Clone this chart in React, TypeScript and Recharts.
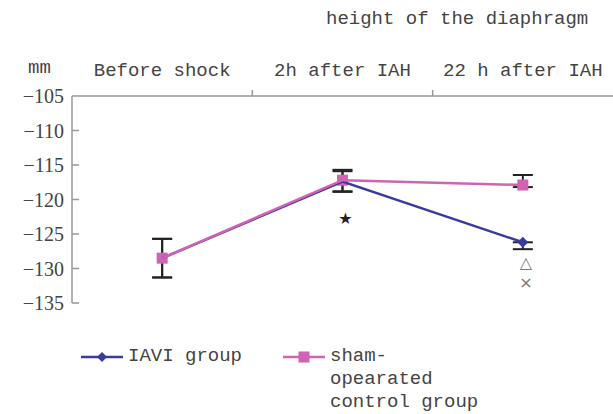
import React from 'react'
import {
  LineChart,
  Line,
  XAxis,
  YAxis,
  ErrorBar,
  ReferenceDot,
  Legend,
} from 'recharts'

const categories = ['Before shock', '2h after IAH', '22 h after IAH']
const iaviValues = [-128.5, -117.4, -126.2]
const shamValues = [-128.5, -117.2, -117.9]
// [down, up]
const iaviErrors = [[2.8, 2.8], [1.5, 1.5], [1.0, 0]]
const shamErrors = [[2.8, 2.8], [1.6, 1.5], [0.3, 1.45]]
const yTicks = [-105, -110, -115, -120, -125, -130, -135]
const marks = [
  { cat: '2h after IAH', value: -122.7, sym: '★', color: '#222' },
  { cat: '22 h after IAH', value: -129.1, sym: '△', color: '#777' },
  { cat: '22 h after IAH', value: -131.9, sym: '×', color: '#777' },
]

const BLUE = '#3b3b9e'
const PINK = '#d063b3'
const MONO = '"Liberation Mono", monospace'
const SERIF = '"Liberation Serif", serif'
const TEXT = '#444'

const data = categories.map((name, i) => ({
  name,
  iavi: iaviValues[i],
  sham: shamValues[i],
  iaviErr: iaviErrors[i],
  shamErr: shamErrors[i],
}))

const AXIS_X = 72
const HALF_BAND = (613 - AXIS_X) / 6

const Diamond = (props: any) => {
  const { cx, cy, fill } = props
  if (cx == null || cy == null) return null
  const r = 5.5
  return (
    <polygon
      points={`${cx},${cy - r} ${cx + r},${cy} ${cx},${cy + r} ${cx - r},${cy}`}
      fill={fill}
    />
  )
}

const Square = (props: any) => {
  const { cx, cy, fill } = props
  if (cx == null || cy == null) return null
  return <rect x={cx - 5.5} y={cy - 5.5} width={11} height={11} fill={fill} />
}

const XTick = (props: any) => {
  const { x, payload, index } = props
  return (
    <g>
      <text x={x} y={76} textAnchor="middle" fontFamily={MONO} fontSize={19} fill={TEXT}>
        {payload.value}
      </text>
      {index > 0 && (
        <line x1={x - HALF_BAND} x2={x - HALF_BAND} y1={90} y2={96} stroke="#999" strokeWidth={1.5} />
      )}
    </g>
  )
}

const YTick = (props: any) => {
  const { x, y, payload } = props
  const label = String(payload.value).replace('-', '\u2212')
  return (
    <g>
      <text x={x} y={y + 7} textAnchor="end" fontFamily={SERIF} fontSize={20} fill={TEXT}>
        {label}
      </text>
      {payload.value !== -105 && (
        <line x1={AXIS_X} x2={AXIS_X + 7} y1={y} y2={y} stroke="#999" strokeWidth={1.5} />
      )}
    </g>
  )
}

const LegendContent = (props: any) => {
  const payload = (props.payload || []).filter((e: any) => e.type !== 'none')
  return (
    <div style={{ position: 'relative', height: 70, fontFamily: MONO, fontSize: 19, color: TEXT }}>
      {payload.map((entry: any, i: number) => {
        const left = i === 0 ? 78 : 280
        const isSham = entry.dataKey === 'sham'
        return (
          <div key={entry.value} style={{ position: 'absolute', left, top: 0, display: 'flex' }}>
            <svg width={46} height={24} style={{ flex: 'none' }}>
              <line x1={3} x2={45} y1={12} y2={12} stroke={entry.color} strokeWidth={2.5} />
              {isSham ? (
                <rect x={18.5} y={6.5} width={11} height={11} fill={entry.color} />
              ) : (
                <polygon points="24,7 29,12 24,17 19,12" fill={entry.color} />
              )}
            </svg>
            <div style={{ lineHeight: '23px', whiteSpace: 'pre', marginLeft: 4 }}>
              {entry.value}
            </div>
          </div>
        )
      })}
    </div>
  )
}

const under = { zIndex: 100 } as any
const over = { zIndex: 900 } as any

export default function App() {
  return (
    <div style={{ position: 'absolute', left: 0, top: 0, width: 613, height: 414, background: '#fff' }}>
      <div
        style={{
          position: 'absolute',
          left: 326,
          top: 8,
          fontFamily: MONO,
          fontSize: 19,
          color: TEXT,
          whiteSpace: 'pre',
        }}
      >
        height of the diaphragm
      </div>
      <div
        style={{
          position: 'absolute',
          left: 28,
          top: 57,
          fontFamily: MONO,
          fontSize: 19,
          color: TEXT,
        }}
      >
        mm
      </div>
      <LineChart
        width={613}
        height={414}
        data={data}
        margin={{ top: 0, right: 0, bottom: 111, left: 0 }}
      >
        <XAxis
          dataKey="name"
          orientation="top"
          scale="band"
          height={96}
          axisLine={{ stroke: '#999', strokeWidth: 1.5 }}
          tickLine={false}
          tick={<XTick />}
          interval={0}
        />
        <YAxis
          domain={[-135, -105]}
          ticks={yTicks}
          width={72}
          axisLine={{ stroke: '#999', strokeWidth: 1.5 }}
          tickLine={false}
          tick={<YTick />}
          interval={0}
        />
        {/* error bars drawn first so the markers sit on top */}
        <Line
          dataKey="sham"
          stroke="none"
          dot={false}
          activeDot={false}
          legendType="none"
          isAnimationActive={false}
          {...under}
        >
          <ErrorBar dataKey="shamErr" direction="y" width={10} stroke="#222" strokeWidth={2} {...under} />
        </Line>
        <Line
          dataKey="iavi"
          stroke="none"
          dot={false}
          activeDot={false}
          legendType="none"
          isAnimationActive={false}
          {...under}
        >
          <ErrorBar dataKey="iaviErr" direction="y" width={10} stroke="#222" strokeWidth={2} {...under} />
        </Line>
        <Line
          dataKey="iavi"
          name="IAVI group"
          stroke={BLUE}
          fill={BLUE}
          strokeWidth={2.5}
          dot={<Diamond />}
          activeDot={false}
          isAnimationActive={false}
          {...over}
        />
        <Line
          dataKey="sham"
          name={'sham-\nopearated\ncontrol group'}
          stroke={PINK}
          fill={PINK}
          strokeWidth={2.5}
          dot={<Square />}
          activeDot={false}
          isAnimationActive={false}
          {...over}
        />
        {marks.map((m, i) => (
          <ReferenceDot
            key={i}
            x={m.cat}
            y={m.value}
            r={0}
            shape={(p: any) => (
              <text
                x={p.cx + 3}
                y={p.cy + 6}
                textAnchor="middle"
                fontSize={16}
                fontFamily={'"DejaVu Sans", sans-serif'}
                fill={m.color}
              >
                {m.sym}
              </text>
            )}
          />
        ))}
        <Legend
          layout="horizontal"
          verticalAlign="middle"
          align="center"
          content={<LegendContent />}
          wrapperStyle={{ top: 345, left: 0, width: 613, height: 69 }}
        />
      </LineChart>
    </div>
  )
}
